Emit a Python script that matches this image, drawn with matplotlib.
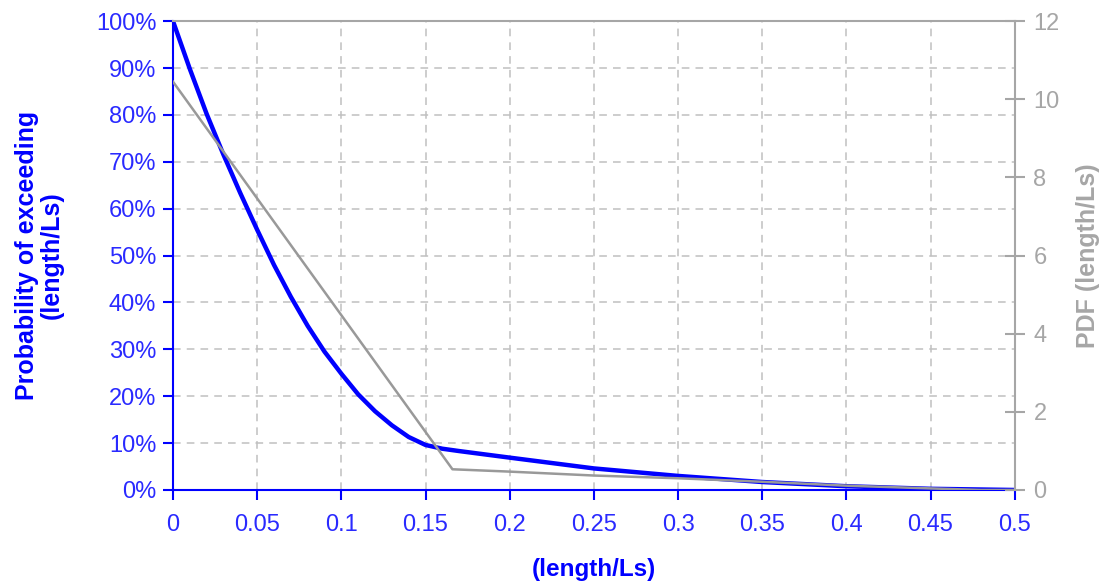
import numpy as np
import matplotlib.pyplot as plt
from matplotlib.ticker import FuncFormatter

plt.rcParams['font.family'] = ['Liberation Sans', 'DejaVu Sans']

# probability of exceeding (blue, left axis, %)
x_prob = [0, 0.01, 0.02, 0.03, 0.04, 0.05, 0.06, 0.07, 0.08, 0.09, 0.1,
          0.11, 0.12, 0.13, 0.14, 0.15, 0.16, 0.17, 0.2, 0.25, 0.3, 0.35, 0.4, 0.45, 0.5]
prob = [100, 89.8, 80.2, 71.5, 63.3, 55.5, 48.0, 41.2, 35.0, 29.5, 24.8,
        20.4, 16.8, 13.8, 11.3, 9.6, 8.8, 8.3, 6.9, 4.6, 3.0, 1.7, 0.8, 0.25, 0]

# PDF (gray, right axis)
x_pdf = [0, 0.166, 0.2, 0.25, 0.3, 0.35, 0.4, 0.45, 0.48, 0.5]
pdf = [10.45, 0.53, 0.47, 0.37, 0.30, 0.21, 0.11, 0.04, 0.0, 0.0]

blue = '#0000ff'
tick_blue = '#2a2aff'
gray = '#a6a6a6'

fig = plt.figure(figsize=(11.09, 5.88), dpi=100)
ax = fig.add_axes([0.156, 0.1667, 0.759, 0.7973])
ax2 = ax.twinx()

ax.plot(x_prob, prob, color=blue, lw=3.2, zorder=3, solid_joinstyle='round')
ax2.plot(x_pdf, pdf, color='#999999', lw=1.8)

ax.set_xlim(0, 0.5)
ax.set_ylim(0, 100)
ax2.set_ylim(0, 12)
ax.set_xticks(np.arange(0, 0.51, 0.05))
ax.set_yticks(np.arange(0, 101, 10))
ax2.set_yticks(np.arange(0, 13, 2))
ax.xaxis.set_major_formatter(FuncFormatter(lambda v, p: '0' if v == 0 else f'{v:.2f}'.rstrip('0')))
ax.yaxis.set_major_formatter(FuncFormatter(lambda v, p: f'{v:.0f}%'))

ax.grid(True, color='#c0c0c0', ls=(0, (5, 4)), lw=1.1)
ax.set_axisbelow(True)

for s in ['left', 'bottom']:
    ax.spines[s].set_color(blue)
    ax.spines[s].set_linewidth(1.5)
for s in ['top', 'right']:
    ax.spines[s].set_visible(False)
ax2.spines['left'].set_visible(False)
ax2.spines['bottom'].set_visible(False)
ax2.spines['top'].set_color(gray)
ax2.spines['right'].set_color(gray)
ax2.spines['top'].set_linewidth(1.5)
ax2.spines['right'].set_linewidth(1.5)

ax.tick_params(axis='both', colors=blue, labelcolor=tick_blue, labelsize=17, length=7, width=1.5)
ax.tick_params(axis='x', pad=10)
ax.tick_params(axis='y', pad=5)
ax2.tick_params(axis='y', colors=gray, labelsize=17, direction='inout', length=15, width=1.5, pad=6)

ax.set_xlabel('(length/Ls)', color=blue, fontsize=17.5, fontweight='bold', labelpad=16)
ax.set_ylabel('Probability of exceeding\n(length/Ls)', color=blue, fontsize=18,
              fontweight='bold', labelpad=23, linespacing=1.05)
ax2.set_ylabel('PDF (length/Ls)', color=gray, fontsize=18, fontweight='bold', labelpad=12)

fig.savefig('out.png', dpi=100)
